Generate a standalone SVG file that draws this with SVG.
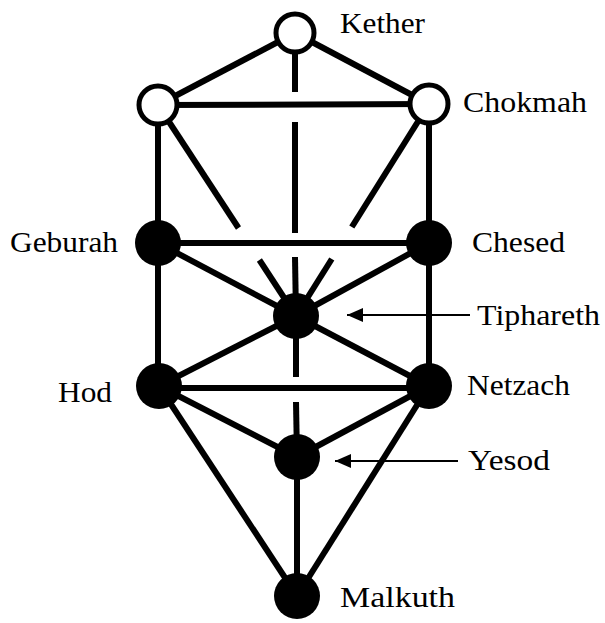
<svg xmlns="http://www.w3.org/2000/svg" width="605" height="623" viewBox="0 0 605 623">
  <style>
    .c { stroke: #000; stroke-width: 6; fill: none; stroke-linecap: butt; }
    .a { stroke: #000; stroke-width: 2; fill: none; marker-end: url(#ah); }
    .w { fill: #fff; stroke: #000; stroke-width: 5; }
    .b { fill: #000; stroke: none; }
    .t { font-family: "Liberation Serif", "Times New Roman", serif; font-size: 30px; fill: #000; }
  </style>
  <defs>
    <marker id="ah" markerUnits="userSpaceOnUse" markerWidth="18" markerHeight="14" refX="16" refY="7" orient="auto">
      <path d="M0,0 L16,7 L0,14 Z" fill="#000"/>
    </marker>
  </defs>
  <rect width="605" height="623" fill="#fff"/>
  <g id="connectors">
    <line class="c" x1="295" y1="33" x2="158" y2="105"/>
    <line class="c" x1="295" y1="33" x2="429" y2="104"/>
    <line class="c" x1="158" y1="105" x2="429" y2="104"/>
    <line class="c" x1="295" y1="33" x2="295" y2="92"/>
    <line class="c" x1="295" y1="122" x2="295" y2="233"/>
    <line class="c" x1="295" y1="257" x2="296" y2="316"/>
    <line class="c" x1="296" y1="316" x2="296" y2="377"/>
    <line class="c" x1="296" y1="402" x2="297" y2="457"/>
    <line class="c" x1="297" y1="457" x2="297" y2="596"/>
    <line class="c" x1="158" y1="105" x2="158" y2="386"/>
    <line class="c" x1="429" y1="104" x2="429" y2="386"/>
    <line class="c" x1="158" y1="105" x2="238.5" y2="228"/>
    <line class="c" x1="259.4" y1="260" x2="296" y2="316"/>
    <line class="c" x1="429" y1="104" x2="351.8" y2="227"/>
    <line class="c" x1="331.8" y1="259" x2="296" y2="316"/>
    <line class="c" x1="158" y1="243" x2="429" y2="243"/>
    <line class="c" x1="158" y1="243" x2="296" y2="316"/>
    <line class="c" x1="429" y1="243" x2="296" y2="316"/>
    <line class="c" x1="296" y1="316" x2="159" y2="386"/>
    <line class="c" x1="296" y1="316" x2="429" y2="386"/>
    <line class="c" x1="159" y1="388" x2="429" y2="388"/>
    <line class="c" x1="159" y1="386" x2="297" y2="457"/>
    <line class="c" x1="429" y1="386" x2="297" y2="457"/>
    <line class="c" x1="159" y1="386" x2="297" y2="596"/>
    <line class="c" x1="429" y1="386" x2="297" y2="596"/>
    <line class="a" x1="470" y1="315" x2="347" y2="315"/>
    <line class="a" x1="458" y1="461" x2="335" y2="461"/>
  </g>
  <g id="kether">
    <circle class="w" cx="295" cy="33" r="19"/>
    <text class="t" x="340" y="33" textLength="85" lengthAdjust="spacingAndGlyphs">Kether</text>
  </g>
  <g id="binah">
    <circle class="w" cx="158" cy="105" r="19"/>
  </g>
  <g id="chokmah">
    <circle class="w" cx="429" cy="104" r="19"/>
    <text class="t" x="463" y="112" textLength="124" lengthAdjust="spacingAndGlyphs">Chokmah</text>
  </g>
  <g id="geburah">
    <circle class="b" cx="158" cy="243" r="23"/>
    <text class="t" x="10" y="252" textLength="108" lengthAdjust="spacingAndGlyphs">Geburah</text>
  </g>
  <g id="chesed">
    <circle class="b" cx="429" cy="243" r="23"/>
    <text class="t" x="472" y="252" textLength="93" lengthAdjust="spacingAndGlyphs">Chesed</text>
  </g>
  <g id="tiphareth">
    <circle class="b" cx="296" cy="316" r="23"/>
    <text class="t" x="477" y="325" textLength="123" lengthAdjust="spacingAndGlyphs">Tiphareth</text>
  </g>
  <g id="hod">
    <circle class="b" cx="159" cy="386" r="23"/>
    <text class="t" x="58" y="402" textLength="54" lengthAdjust="spacingAndGlyphs">Hod</text>
  </g>
  <g id="netzach">
    <circle class="b" cx="429" cy="386" r="23"/>
    <text class="t" x="467" y="395" textLength="103" lengthAdjust="spacingAndGlyphs">Netzach</text>
  </g>
  <g id="yesod">
    <circle class="b" cx="297" cy="457" r="23"/>
    <text class="t" x="468" y="470" textLength="82" lengthAdjust="spacingAndGlyphs">Yesod</text>
  </g>
  <g id="malkuth">
    <circle class="b" cx="297" cy="596" r="23"/>
    <text class="t" x="340" y="607" textLength="115" lengthAdjust="spacingAndGlyphs">Malkuth</text>
  </g>
</svg>
